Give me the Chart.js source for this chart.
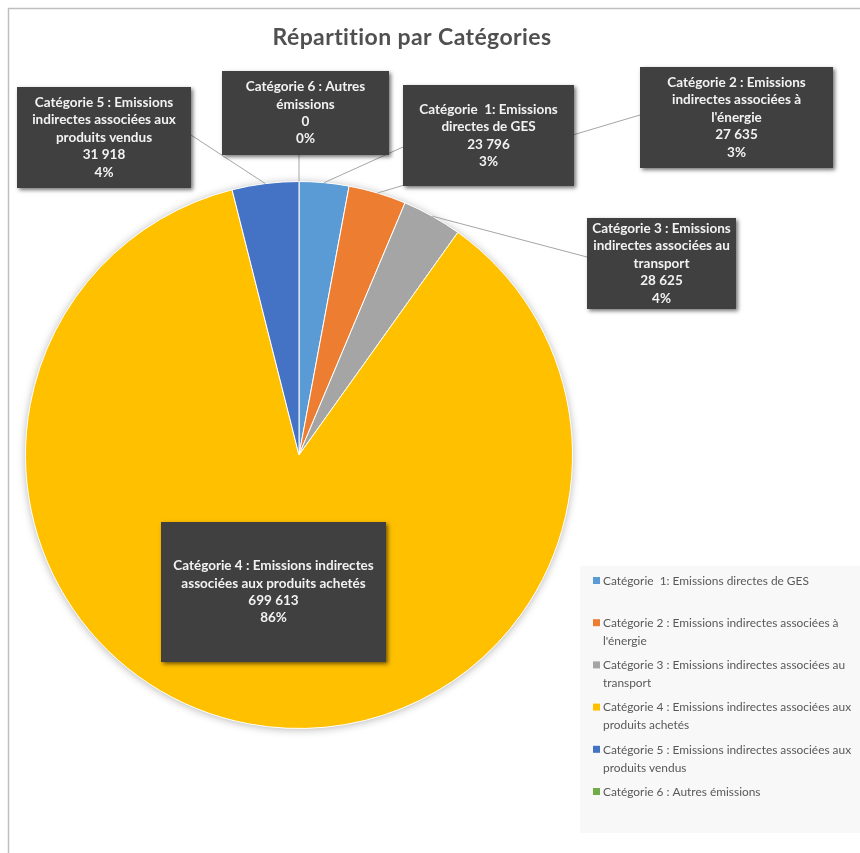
<!DOCTYPE html>
<html>
<head>
<meta charset="utf-8">
<script src="https://cdn.jsdelivr.net/npm/chart.js@4"></script>
<style>
  body { margin: 0; background: #fff; }
  #wrap { width: 860px; height: 853px; }
</style>
</head>
<body>
<div id="wrap"><canvas id="myChart" width="860" height="853"></canvas></div>
<script>
const ctx = document.getElementById("myChart").getContext("2d");

// donnees du graphique
const categories = [
  "Catégorie  1: Emissions directes de GES",
  "Catégorie 2 : Emissions indirectes associées à l'énergie",
  "Catégorie 3 : Emissions indirectes associées au transport",
  "Catégorie 4 : Emissions indirectes associées aux produits achetés",
  "Catégorie 5 : Emissions indirectes associées aux produits vendus",
  "Catégorie 6 : Autres émissions",
];
const values = [23796, 27635, 28625, 699613, 31918, 0];
const colors = ["#5B9BD5", "#ED7D31", "#A5A5A5", "#FFC000", "#4472C4", "#70AD47"];

// texte des etiquettes (avant valeur + pourcentage)
const boxTitles = [
  ["Catégorie  1: Emissions", "directes de GES"],
  ["Catégorie 2 : Emissions", "indirectes associées à", "l'énergie"],
  ["Catégorie 3 : Emissions", "indirectes associées au", "transport"],
  ["Catégorie 4 : Emissions indirectes", "associées aux produits achetés"],
  ["Catégorie 5 : Emissions", "indirectes associées aux", "produits vendus"],
  ["Catégorie 6 : Autres", "émissions"],
];

// position des boites [x, y, w, h] et point d'attache du trait
const boxes = [
  [403, 85, 171, 101],
  [640, 67, 193, 101],
  [587, 218, 149, 91],
  [161, 522, 225, 140],
  [17, 87, 174, 101],
  [222, 71, 167, 84],
];
const anchors = [[403, 147], [640, 115], [587, 257], null, [191, 135], [299, 155]];

const fmt = (n) => String(n).replace(/\B(?=(\d{3})+(?!\d))/g, " ");

function wrap(c, text, maxW) {
  const words = text.split(" ");
  const lines = [];
  let cur = "";
  words.forEach((w) => {
    const t = cur ? cur + " " + w : w;
    if (c.measureText(t).width > maxW && cur) {
      lines.push(cur);
      cur = w;
    } else cur = t;
  });
  if (cur) lines.push(cur);
  return lines;
}

const decor = {
  id: "decor",
  beforeDraw(chart) {
    const c = chart.ctx;
    c.save();
    c.fillStyle = "#fff";
    c.fillRect(0, 0, chart.width, chart.height);
    // cadre
    c.strokeStyle = "#BFBFBF";
    c.lineWidth = 1.5;
    c.beginPath();
    c.moveTo(8.5, chart.height);
    c.lineTo(8.5, 8.5);
    c.lineTo(chart.width, 8.5);
    c.stroke();
    // titre
    c.fillStyle = "#505050";
    c.font = "bold 23px Lato";
    c.letterSpacing = "0.4px";
    c.textAlign = "center";
    c.textBaseline = "middle";
    c.fillText("Répartition par Catégories", 412, 38);
    c.letterSpacing = "0px";
    // legende
    c.fillStyle = "#F8F8F8";
    c.fillRect(580, 566, 280, 267);
    c.font = "11.9px Lato";
    c.textAlign = "left";
    categories.forEach((name, i) => {
      const y = 581 + i * 42.2;
      c.fillStyle = colors[i];
      c.fillRect(593, y - 4, 7, 7);
      c.fillStyle = "#595959";
      wrap(c, name, 255).forEach((ln, k) => c.fillText(ln, 603, y + k * 18));
    });
    // ombre du camembert
    const arc = chart.getDatasetMeta(0).data[0];
    if (arc) {
      const p = arc.getProps(["x", "y", "outerRadius"], true);
      c.shadowColor = "rgba(0,0,0,0.3)";
      c.shadowBlur = 8;
      c.shadowOffsetY = 1;
      c.fillStyle = "#fff";
      c.beginPath();
      c.arc(p.x, p.y, p.outerRadius, 0, Math.PI * 2);
      c.fill();
    }
    c.restore();
  },
  afterDraw(chart) {
    const c = chart.ctx;
    const meta = chart.getDatasetMeta(0);
    const total = values.reduce((a, b) => a + b, 0);
    c.save();
    // traits de rappel
    c.strokeStyle = "#A6A6A6";
    c.lineWidth = 1;
    meta.data.forEach((el, i) => {
      if (!anchors[i]) return;
      const p = el.getProps(["x", "y", "startAngle", "endAngle", "outerRadius"], true);
      const a = (p.startAngle + p.endAngle) / 2;
      c.beginPath();
      c.moveTo(p.x + Math.cos(a) * p.outerRadius, p.y + Math.sin(a) * p.outerRadius);
      c.lineTo(anchors[i][0], anchors[i][1]);
      c.stroke();
    });
    // etiquettes
    c.font = "bold 13.5px Lato";
    c.textAlign = "center";
    c.textBaseline = "middle";
    boxes.forEach((b, i) => {
      const [x, y, w, h] = b;
      c.save();
      c.shadowColor = "rgba(0,0,0,0.55)";
      c.shadowBlur = 4;
      c.shadowOffsetX = 2;
      c.shadowOffsetY = 2;
      c.fillStyle = "#404040";
      c.fillRect(x, y, w, h);
      c.restore();
      const lines = boxTitles[i].concat([fmt(values[i]), Math.round((values[i] / total) * 100) + "%"]);
      const lh = 17.4;
      const y0 = y + h / 2 - ((lines.length - 1) * lh) / 2;
      c.fillStyle = "#F2F2F2";
      lines.forEach((ln, k) => c.fillText(ln, x + w / 2, y0 + k * lh));
    });
    c.restore();
  },
};

const data = {
  labels: categories,
  datasets: [
    {
      data: values,
      backgroundColor: colors,
      borderColor: "#ffffff",
      borderWidth: 1,
    },
  ],
};

const config = {
  type: "pie",
  data: data,
  options: {
    responsive: false,
    animation: false,
    layout: { padding: { left: 25, right: 287, top: 181, bottom: 124 } },
    plugins: {
      legend: { display: false },
      title: { display: false },
      tooltip: { enabled: false },
    },
  },
  plugins: [decor],
};

new Chart(ctx, config);
</script>
</body>
</html>
